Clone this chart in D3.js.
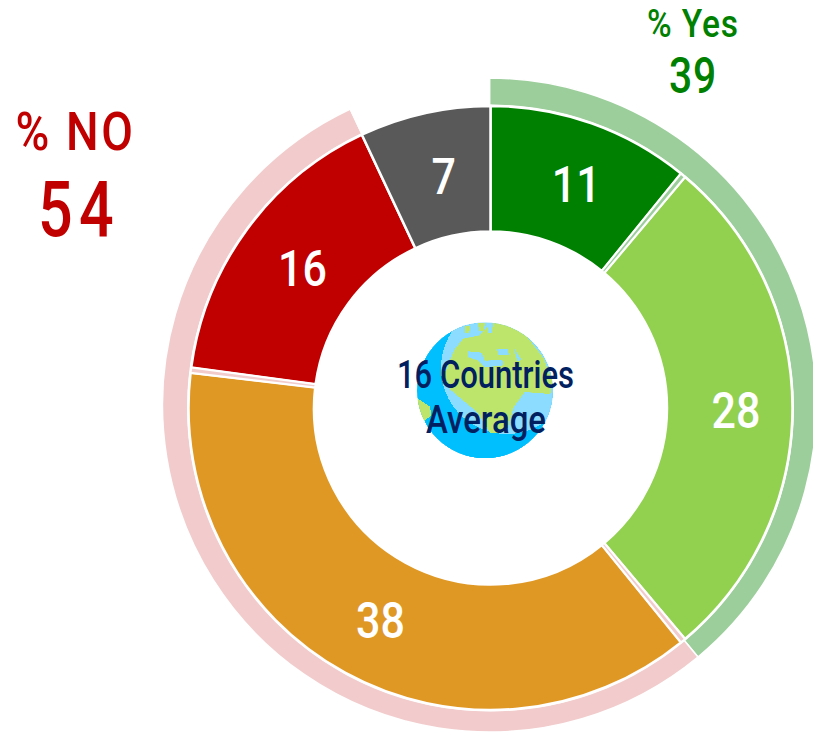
<!DOCTYPE html>
<html>
<head>
<meta charset="utf-8">
<script src="https://cdn.jsdelivr.net/npm/d3@7"></script>
<style>
  html, body { margin: 0; background: #fff; overflow: hidden; }
  text { font-family: Roboto, sans-serif; font-weight: 500; text-anchor: middle; }
</style>
</head>
<body>
<script>
// inner ring
let categories = ["Yes strong", "Yes some", "No some", "No strong", "Unsure"];
let values = [11, 28, 38, 16, 7];
// thin pale slices sit right after these categories
let thinAfter = ["Yes strong", "Yes some", "No some"];
let thinValue = 0.14;

// outer ring
let groups = ["Yes", "No", "Rest"];
let groupValues = [39, 54, 7];

let titleYes = "% Yes", titleNo = "% NO";
let centerLines = ["16 Countries", "Average"];

// globe picture, traced in a 435 unit box
let landShapes = [
    [[150,62],[200,52],[238,14],[300,14],[345,60],[392,120],[418,190],[412,228],[335,222],[302,268],[280,342],[232,345],[192,282],[112,215],[92,172],[124,96]],
    [[12,240],[50,265],[56,292],[32,310],[12,280]],
    [[155,24],[172,24],[168,46],[155,44]],
    [[195,14],[215,14],[214,40],[198,40]]
];
let seaShapes = [
    [[165,100],[205,104],[216,128],[268,126],[272,142],[216,148],[196,128],[165,118]],
    [[252,92],[284,92],[288,112],[256,112]],
    [[302,90],[326,126],[314,130]],
    [[222,14],[240,14],[236,46],[226,44]]
];

let width = 813, height = 732;
let cx = 490.5, cy = 408;

let colors = d3.scaleOrdinal()
    .domain(categories)
    .range(["#008000", "#92D050", "#E09825", "#C00000", "#595959"]);
let groupColors = d3.scaleOrdinal()
    .domain(groups)
    .range(["#008000", "#C00000", "none"]);

let svg = d3.select("body").append("svg")
    .attr("width", width)
    .attr("height", height);

let pie = d3.pie().sort(null).value(d => d.value);
let toAngle = d3.scaleLinear().domain([0, 100]).range([0, 2 * Math.PI]);
let half = toAngle(thinValue);

let slices = pie(categories.map((c, i) => ({ name: c, value: values[i] })));
let innerArc = d3.arc().innerRadius(176.5).outerRadius(302);
let ringArc = d3.arc().innerRadius(280).outerRadius(327);

// outer ring, its circle sits a little up and left of the inner one
svg.append("g")
    .attr("transform", "translate(489.5,405)")
    .selectAll(".ring")
    .data(pie(groups.map((c, i) => ({ name: c, value: groupValues[i] }))))
    .enter().append("path")
    .attr("class", "ring")
    .attr("d", ringArc)
    .attr("fill", d => groupColors(d.data.name))
    .attr("fill-opacity", d => d.data.name == "Yes" ? 0.39 : 0.2)
    .attr("stroke", "#fff")
    .attr("stroke-width", 1.5);

let chart = svg.append("g").attr("transform", `translate(${cx},${cy})`);
chart.append("circle").attr("r", 303.5).attr("fill", "#fff");

// trim the slices either side of a thin one
slices.forEach((s, i) => {
    let prev = categories[i - 1];
    if (thinAfter.includes(s.data.name)) s.endAngle -= half;
    if (thinAfter.includes(prev)) s.startAngle += half;
});

chart.selectAll(".slice")
    .data(slices)
    .enter().append("path")
    .attr("class", "slice")
    .attr("d", innerArc)
    .attr("fill", d => colors(d.data.name))
    .attr("stroke", "#fff")
    .attr("stroke-width", 2.5);

chart.selectAll(".thin")
    .data(slices.filter(s => thinAfter.includes(s.data.name)))
    .enter().append("path")
    .attr("class", "thin")
    .attr("d", d => innerArc({ startAngle: d.endAngle, endAngle: d.endAngle + 2 * half }))
    .attr("fill", d => colors(d.data.name) == "#008000" ? "#008000" : "#C00000")
    .attr("fill-opacity", d => colors(d.data.name) == "#008000" ? 0.39 : 0.2)
    .attr("stroke", "#fff")
    .attr("stroke-width", 2);

let labelArc = d3.arc().innerRadius(240).outerRadius(240);
chart.selectAll(".label")
    .data(slices)
    .enter().append("text")
    .attr("class", "label")
    .attr("transform", d => {
        let p = labelArc.centroid(d);
        return `translate(${p[0] + 5.5},${p[1] + 20}) scale(0.86,1)`;
    })
    .attr("fill", "#fff")
    .attr("font-size", 50)
    .text(d => d.data.value);

// globe
let globeX = d3.scaleLinear().domain([0, 435]).range([413, 558]);
let globeY = d3.scaleLinear().domain([0, 435]).range([318, 463]);
let shapeLine = d3.line().x(d => globeX(d[0])).y(d => globeY(d[1])).curve(d3.curveLinearClosed);

svg.append("clipPath").attr("id", "globeClip")
    .append("circle").attr("cx", 485).attr("cy", 390.5).attr("r", 68);

let globe = svg.append("g").attr("clip-path", "url(#globeClip)").attr("shape-rendering", "crispEdges");
globe.append("circle").attr("cx", 485).attr("cy", 390.5).attr("r", 68).attr("fill", "#00BFFF");
globe.append("circle").attr("cx", 507).attr("cy", 368).attr("r", 66).attr("fill", "#8CDCFF");
globe.selectAll(".land").data(landShapes).enter().append("path")
    .attr("class", "land").attr("d", shapeLine).attr("fill", "#BDE56B");
globe.selectAll(".sea").data(seaShapes).enter().append("path")
    .attr("class", "sea").attr("d", shapeLine).attr("fill", "#8CDCFF");

function addText(str, x, y, size, fill, len, spacing) {
    svg.append("text")
        .attr("x", x).attr("y", y)
        .attr("font-size", size)
        .attr("fill", fill)
        .attr("letter-spacing", spacing || 0)
        .attr("textLength", len)
        .attr("lengthAdjust", "spacingAndGlyphs")
        .text(str);
}

addText(centerLines[0], 485.5, 388, 38, "#002060", 177);
addText(centerLines[1], 486, 433, 38, "#002060", 120);

addText(titleNo, 75.5, 150, 53, "#C00000", 120, 3);
addText(groupValues[1], 79, 236, 77, "#C00000", 82, 8);
addText(titleYes, 693, 37, 38, "#008000", 92, 1);
addText(groupValues[0], 693, 93, 50, "#008000", 48, 1);
</script>
</body>
</html>
